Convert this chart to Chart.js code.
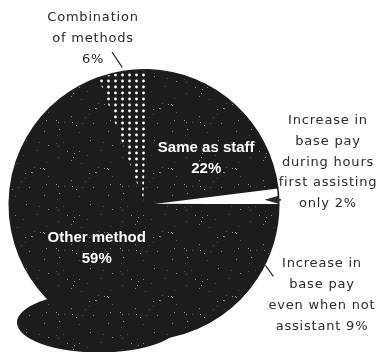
<!DOCTYPE html>
<html>
<head>
<meta charset="utf-8">
<script src="https://cdn.jsdelivr.net/npm/chart.js@4"></script>
<style>
  html, body { margin: 0; padding: 0; background: #fff; }
  canvas { display: block; }
</style>
</head>
<body>
<canvas id="graficaPago" width="381" height="352"></canvas>
<script>
// datos del gráfico (porcentajes tal como aparecen en las etiquetas)
const categorias = [
    'Same as staff',
    'Increase in base pay during hours first assisting only',
    'Increase in base pay even when not assistant',
    'Other method',
    'Combination of methods'
];
const porcentajes = [22, 2, 9, 59, 6];

// texto de las etiquetas, linea por linea
const etiquetasDentro = {
    0: ['Same as staff', porcentajes[0] + '%'],
    3: ['Other method', porcentajes[3] + '%']
};
const etiquetasFuera = {
    4: ['Combination', 'of methods', porcentajes[4] + '%'],
    1: ['Increase in', 'base pay', 'during hours', 'first assisting', 'only ' + porcentajes[1] + '%'],
    2: ['Increase in', 'base pay', 'even when not', 'assistant ' + porcentajes[2] + '%']
};

const OSCURO = '#1c1c1c';

// generador simple para el granulado (siempre el mismo)
let semilla = 7;
function siguiente() {
    semilla = (semilla * 16807) % 2147483647;
    return semilla / 2147483647;
}

function texturaGrano() {
    const c = document.createElement('canvas');
    c.width = 64; c.height = 64;
    const g = c.getContext('2d');
    g.fillStyle = OSCURO;
    g.fillRect(0, 0, 64, 64);
    for (let i = 0; i < 42; i++) {
        g.fillStyle = siguiente() > 0.5 ? 'rgba(255,255,255,0.5)' : 'rgba(200,200,200,0.3)';
        g.fillRect(Math.floor(siguiente() * 64), Math.floor(siguiente() * 64), 1, 1);
    }
    return g.createPattern(c, 'repeat');
}

function texturaPuntos() {
    const c = document.createElement('canvas');
    c.width = 7; c.height = 6;
    const g = c.getContext('2d');
    g.fillStyle = OSCURO;
    g.fillRect(0, 0, 7, 6);
    g.fillStyle = '#ffffff';
    g.beginPath();
    g.arc(3.5, 3, 1.4, 0, Math.PI * 2);
    g.fill();
    return g.createPattern(c, 'repeat');
}

const grano = texturaGrano();
const puntos = texturaPuntos();

function punto(arc, ang, r) {
    return { x: arc.x + Math.cos(ang) * r, y: arc.y + Math.sin(ang) * r };
}

// mancha oscura al pie del circulo y etiquetas
const dibujoExtra = {
    id: 'dibujoExtra',
    afterDatasetsDraw(chart) {
        const ctx = chart.ctx;
        const arc = chart.getDatasetMeta(0).data[0];
        ctx.save();
        ctx.fillStyle = grano;
        ctx.beginPath();
        ctx.ellipse(arc.x - 45, arc.y + 118, 82, 30, 0, 0, Math.PI * 2);
        ctx.fill();
        ctx.restore();
    },
    afterDraw(chart) {
        const ctx = chart.ctx;
        const arcos = chart.getDatasetMeta(0).data;
        ctx.save();
        ctx.textAlign = 'center';
        ctx.textBaseline = 'middle';

        // etiquetas blancas dentro del circulo
        const ajustes = { 0: { giro: 11, f: 0.575 }, 3: { giro: -4, f: 0.475 } };
        ctx.font = 'bold 15px "Liberation Sans", Arial, sans-serif';
        ctx.fillStyle = '#ffffff';
        Object.keys(etiquetasDentro).forEach(i => {
            const a = arcos[i];
            const medio = (a.startAngle + a.endAngle) / 2 + ajustes[i].giro * Math.PI / 180;
            const p = punto(a, medio, a.outerRadius * ajustes[i].f);
            etiquetasDentro[i].forEach((t, k) => ctx.fillText(t, p.x, p.y - 10 + k * 21));
        });

        // etiquetas de afuera
        ctx.font = '13px "DejaVu Sans", sans-serif';
        ctx.letterSpacing = '0.8px';
        ctx.fillStyle = '#2b2b2b';
        const bloques = {
            4: { x: 93, y: 18, paso: 21 },
            1: { x: 328, y: 121, paso: 20.7 },
            2: { x: 322, y: 264, paso: 21 }
        };
        Object.keys(etiquetasFuera).forEach(i => {
            const b = bloques[i];
            etiquetasFuera[i].forEach((t, k) => ctx.fillText(t, b.x, b.y + k * b.paso));
        });

        ctx.strokeStyle = '#2b2b2b';
        ctx.fillStyle = '#2b2b2b';
        ctx.lineWidth = 1.3;

        // linea de "Combination of methods"
        const c = arcos[4];
        const pc = punto(c, (c.startAngle + c.endAngle) / 2, c.outerRadius + 4);
        ctx.beginPath();
        ctx.moveTo(112, 52);
        ctx.lineTo(pc.x, pc.y);
        ctx.stroke();

        // flecha hacia la rebanada del 2%
        const d = arcos[1];
        const pd = punto(d, (d.startAngle + d.endAngle) / 2, d.outerRadius - 10);
        ctx.lineWidth = 1.6;
        ctx.beginPath();
        ctx.moveTo(281, pd.y + 3);
        ctx.lineTo(pd.x + 8, pd.y + 3);
        ctx.stroke();
        ctx.beginPath();
        ctx.moveTo(pd.x - 4, pd.y + 3);
        ctx.lineTo(pd.x + 10, pd.y - 1);
        ctx.lineTo(pd.x + 10, pd.y + 7);
        ctx.closePath();
        ctx.fill();

        // linea del 9%
        const e = arcos[2];
        const angE = e.startAngle + 0.8 * (e.endAngle - e.startAngle);
        const pe = punto(e, angE, e.outerRadius + 1);
        ctx.lineWidth = 1.2;
        ctx.beginPath();
        ctx.moveTo(pe.x, pe.y);
        ctx.lineTo(pe.x + 8, pe.y + 11);
        ctx.stroke();

        ctx.restore();
    }
};

const ctx = document.getElementById('graficaPago').getContext('2d');

new Chart(ctx, {
    type: 'pie',
    data: {
        labels: categorias,
        datasets: [{
            data: porcentajes,
            backgroundColor: [grano, '#ffffff', grano, grano, puntos],
            borderColor: OSCURO,
            borderWidth: 1.5
        }]
    },
    options: {
        responsive: false,
        animation: false,
        rotation: 2,
        layout: { padding: { left: 8, right: 101, top: 69, bottom: 12 } },
        plugins: {
            legend: { display: false },
            tooltip: { enabled: false }
        }
    },
    plugins: [dibujoExtra]
});
</script>
</body>
</html>
